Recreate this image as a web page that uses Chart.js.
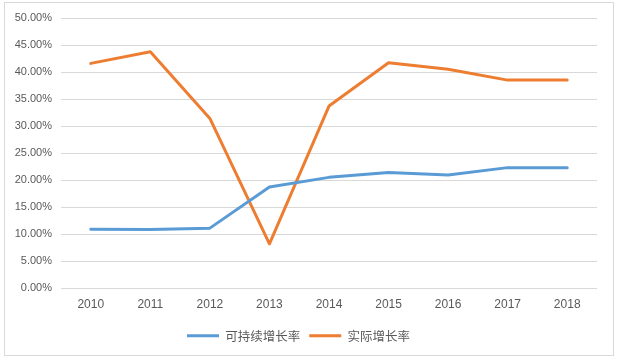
<!DOCTYPE html>
<html>
<head>
<meta charset="utf-8">
<script src="https://cdn.jsdelivr.net/npm/chart.js@4"></script>
<style>
html,body{margin:0;padding:0;background:#fff;}
#wrap{position:absolute;left:0;top:0;width:620px;height:364px;}
</style>
</head>
<body>
<div id="wrap"><canvas id="c" width="620" height="364"></canvas></div>
<script>
const categories = ['2010','2011','2012','2013','2014','2015','2016','2017','2018'];
const sustainableGrowth = [10.9, 10.85, 11.1, 18.7, 20.5, 21.4, 20.95, 22.3, 22.3];
const actualGrowth = [41.6, 43.75, 31.4, 8.2, 33.7, 41.7, 40.5, 38.5, 38.5];
const seriesNames = ['可持续增长率', '实际增长率'];
const yTicks = {min: 0, max: 50, step: 5};

const borderPlugin = {
  id: 'frame',
  beforeDraw(chart) {
    const ctx = chart.ctx;
    ctx.save();
    ctx.fillStyle = '#fff';
    ctx.fillRect(0, 0, chart.width, chart.height);
    ctx.strokeStyle = '#d9d9d9';
    ctx.lineWidth = 1;
    ctx.strokeRect(4.5, 2.5, 609, 353);
    ctx.restore();
  }
};

new Chart(document.getElementById('c'), {
  type: 'line',
  data: {
    labels: categories,
    datasets: [
      {label: seriesNames[0], data: sustainableGrowth, borderColor: '#5B9BD5', backgroundColor: '#5B9BD5', borderWidth: 3, pointRadius: 0, tension: 0, borderCapStyle: 'round', borderJoinStyle: 'round'},
      {label: seriesNames[1], data: actualGrowth, borderColor: '#ED7D31', backgroundColor: '#ED7D31', borderWidth: 3, pointRadius: 0, tension: 0, borderCapStyle: 'round', borderJoinStyle: 'round'}
    ]
  },
  options: {
    responsive: false,
    animation: false,
    devicePixelRatio: 1,
    layout: {padding: {left: 0, right: 23, top: 18, bottom: 12}},
    plugins: {
      tooltip: {enabled: false},
      legend: {
        position: 'bottom',
        labels: {
          boxWidth: 32,
          boxHeight: 3,
          padding: 9,
          color: '#595959',
          font: {family: "'Noto Sans CJK SC', 'Liberation Sans', sans-serif", size: 12.5},
          generateLabels(chart) {
            const items = Chart.defaults.plugins.legend.labels.generateLabels(chart);
            items.forEach(i => { i.lineWidth = 0; });
            return items;
          }
        }
      }
    },
    scales: {
      x: {
        offset: true,
        grid: {display: false, drawTicks: false, offset: true},
        border: {display: false},
        ticks: {color: '#595959', padding: 9, font: {family: "'Liberation Sans', Arial, sans-serif", size: 12}}
      },
      y: {
        min: yTicks.min, max: yTicks.max,
        afterFit(scale) { scale.width = 61; },
        grid: {color: '#d9d9d9', lineWidth: 1, drawTicks: false},
        border: {display: false},
        ticks: {
          stepSize: yTicks.step,
          color: '#595959',
          padding: 9,
          font: {family: "'Liberation Sans', Arial, sans-serif", size: 11},
          callback: v => v.toFixed(2) + '%'
        }
      }
    }
  },
  plugins: [borderPlugin]
});
</script>
</body>
</html>
